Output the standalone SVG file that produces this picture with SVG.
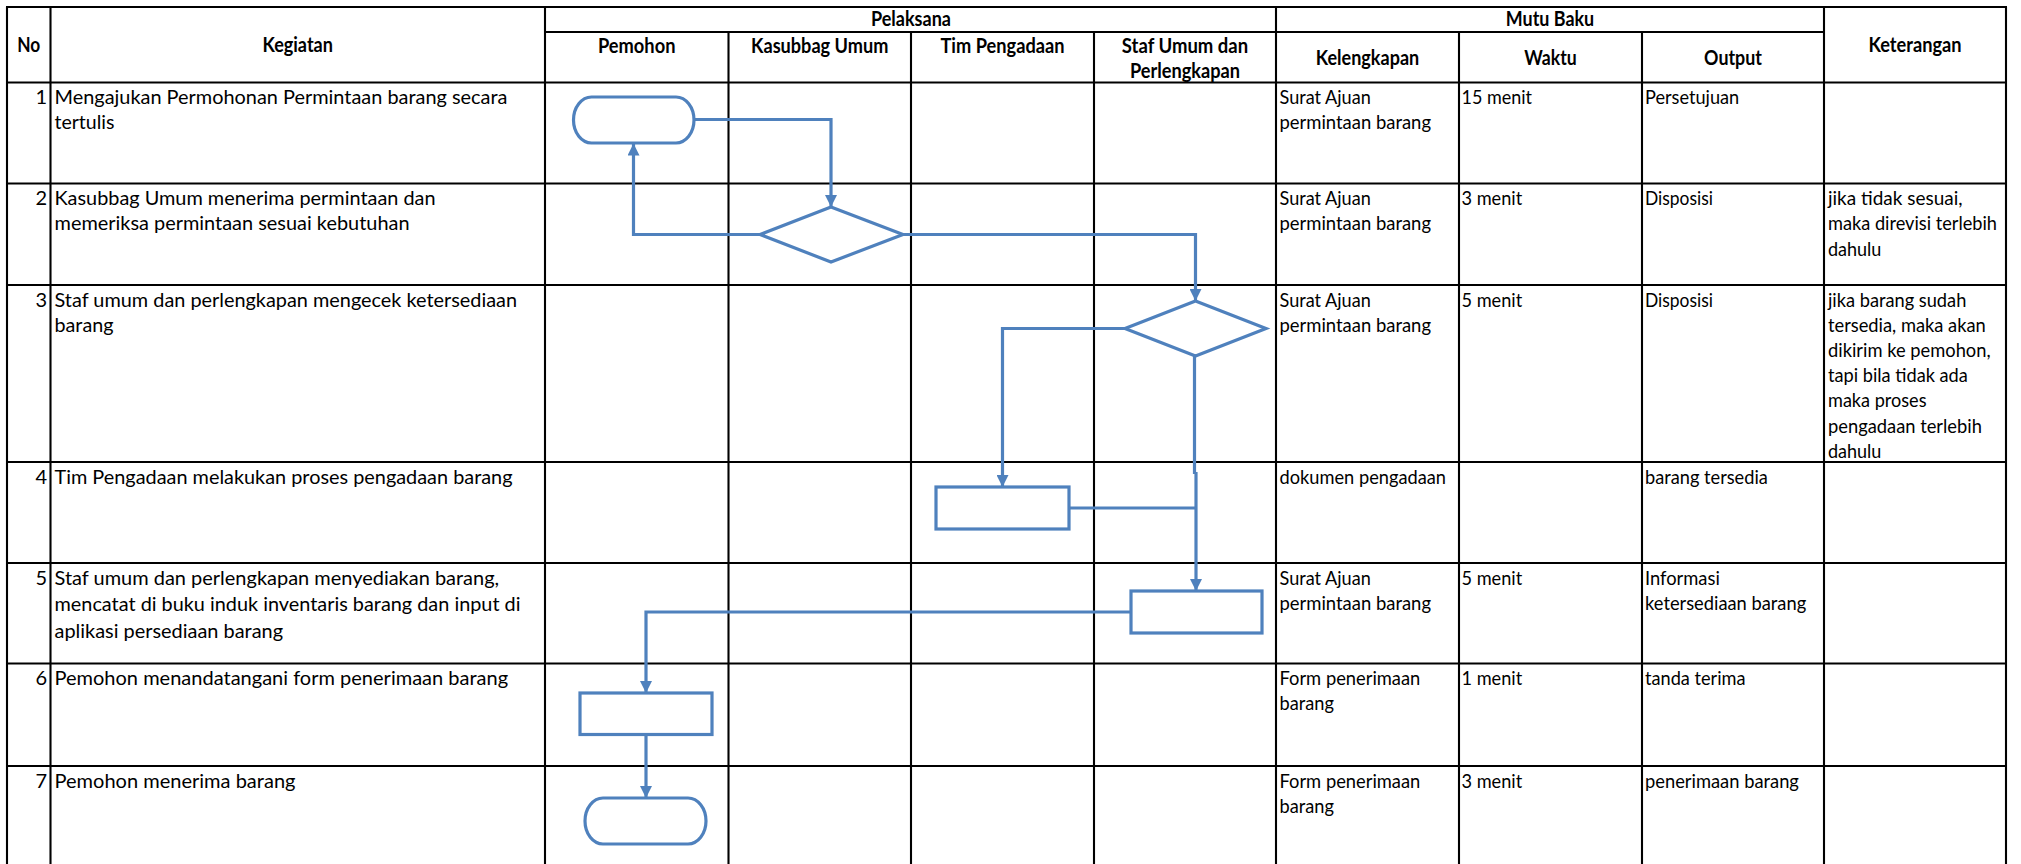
<svg xmlns="http://www.w3.org/2000/svg" width="2021" height="864" viewBox="0 0 2021 864">
<style>
.t{font-family:Lato,"Liberation Sans",sans-serif;font-size:20px;fill:#000}
.h{font-weight:bold;text-anchor:middle}
.n{text-anchor:end}
.grid line{stroke:#000;stroke-width:2.1}
.shape{fill:#fff;stroke:#4F81BD;stroke-width:3.2}
.conn path{fill:none;stroke:#4F81BD;stroke-width:3.2}
</style>
<defs>
<marker id="arr" markerUnits="userSpaceOnUse" markerWidth="12" markerHeight="12" refX="12" refY="6" orient="auto">
<path d="M0,0 L12,6 L0,12 z" fill="#4F81BD"/>
</marker>
</defs>
<rect width="2021" height="864" fill="#fff"/>
<g class="grid">
<line x1="6" y1="7" x2="2007" y2="7"/>
<line x1="7" y1="7" x2="7" y2="870"/>
<line x1="2006" y1="7" x2="2006" y2="870"/>
<line x1="545" y1="32" x2="1824" y2="32"/>
<line x1="7" y1="82.5" x2="2006" y2="82.5"/>
<line x1="7" y1="183.5" x2="2006" y2="183.5"/>
<line x1="7" y1="285" x2="2006" y2="285"/>
<line x1="7" y1="462" x2="2006" y2="462"/>
<line x1="7" y1="563" x2="2006" y2="563"/>
<line x1="7" y1="663.5" x2="2006" y2="663.5"/>
<line x1="7" y1="766" x2="2006" y2="766"/>
<line x1="50.5" y1="7" x2="50.5" y2="870"/>
<line x1="545" y1="7" x2="545" y2="870"/>
<line x1="728.5" y1="32" x2="728.5" y2="870"/>
<line x1="911" y1="32" x2="911" y2="870"/>
<line x1="1094" y1="32" x2="1094" y2="870"/>
<line x1="1276" y1="7" x2="1276" y2="870"/>
<line x1="1459" y1="32" x2="1459" y2="870"/>
<line x1="1642" y1="32" x2="1642" y2="870"/>
<line x1="1824" y1="7" x2="1824" y2="870"/>
</g>
<g id="header">
<text class="t h" x="28.7" y="52" textLength="23" lengthAdjust="spacingAndGlyphs">No</text>
<text class="t h" x="297.7" y="52" textLength="70.5" lengthAdjust="spacingAndGlyphs">Kegiatan</text>
<text class="t h" x="911" y="26" textLength="80" lengthAdjust="spacingAndGlyphs">Pelaksana</text>
<text class="t h" x="1550" y="26" textLength="88.3" lengthAdjust="spacingAndGlyphs">Mutu Baku</text>
<text class="t h" x="636.7" y="52.5" textLength="77.5" lengthAdjust="spacingAndGlyphs">Pemohon</text>
<text class="t h" x="819.7" y="52.5" textLength="137.3" lengthAdjust="spacingAndGlyphs">Kasubbag Umum</text>
<text class="t h" x="1002.5" y="52.5" textLength="124" lengthAdjust="spacingAndGlyphs">Tim Pengadaan</text>
<text class="t h" x="1185" y="52.5" textLength="126.3" lengthAdjust="spacingAndGlyphs">Staf Umum dan</text>
<text class="t h" x="1185" y="77.5" textLength="110.2" lengthAdjust="spacingAndGlyphs">Perlengkapan</text>
<text class="t h" x="1367.5" y="65" textLength="103.4" lengthAdjust="spacingAndGlyphs">Kelengkapan</text>
<text class="t h" x="1550.5" y="65" textLength="52.4" lengthAdjust="spacingAndGlyphs">Waktu</text>
<text class="t h" x="1733" y="65" textLength="57.8" lengthAdjust="spacingAndGlyphs">Output</text>
<text class="t h" x="1915" y="52" textLength="93.2" lengthAdjust="spacingAndGlyphs">Keterangan</text>
</g>
<g id="rows">
<text class="t n" x="47" y="104">1</text>
<text class="t" x="54.5" y="104" textLength="453" lengthAdjust="spacingAndGlyphs">Mengajukan Permohonan Permintaan barang secara</text>
<text class="t" x="54.5" y="129.4" textLength="60" lengthAdjust="spacingAndGlyphs">tertulis</text>
<text class="t" x="1279.5" y="104" textLength="91.3" lengthAdjust="spacingAndGlyphs">Surat Ajuan</text>
<text class="t" x="1279.5" y="129.4" textLength="151.5" lengthAdjust="spacingAndGlyphs">permintaan barang</text>
<text class="t" x="1461.5" y="104" textLength="70.4" lengthAdjust="spacingAndGlyphs">15 menit</text>
<text class="t" x="1645" y="104" textLength="94.2" lengthAdjust="spacingAndGlyphs">Persetujuan</text>

<text class="t n" x="47" y="205">2</text>
<text class="t" x="54.5" y="205" textLength="381" lengthAdjust="spacingAndGlyphs">Kasubbag Umum menerima permintaan dan</text>
<text class="t" x="54.5" y="230.4" textLength="355" lengthAdjust="spacingAndGlyphs">memeriksa permintaan sesuai kebutuhan</text>
<text class="t" x="1279.5" y="205" textLength="91.3" lengthAdjust="spacingAndGlyphs">Surat Ajuan</text>
<text class="t" x="1279.5" y="230.4" textLength="151.5" lengthAdjust="spacingAndGlyphs">permintaan barang</text>
<text class="t" x="1461.5" y="205" textLength="60.7" lengthAdjust="spacingAndGlyphs">3 menit</text>
<text class="t" x="1645" y="205" textLength="68" lengthAdjust="spacingAndGlyphs">Disposisi</text>
<text class="t" x="1828" y="205" textLength="134.5" lengthAdjust="spacingAndGlyphs">jika tidak sesuai,</text>
<text class="t" x="1828" y="230.4" textLength="169" lengthAdjust="spacingAndGlyphs">maka direvisi terlebih</text>
<text class="t" x="1828" y="255.8" textLength="53.4" lengthAdjust="spacingAndGlyphs">dahulu</text>

<text class="t n" x="47" y="306.5">3</text>
<text class="t" x="54.5" y="306.5" textLength="462.5" lengthAdjust="spacingAndGlyphs">Staf umum dan perlengkapan mengecek ketersediaan</text>
<text class="t" x="54.5" y="331.9" textLength="59" lengthAdjust="spacingAndGlyphs">barang</text>
<text class="t" x="1279.5" y="306.5" textLength="91.3" lengthAdjust="spacingAndGlyphs">Surat Ajuan</text>
<text class="t" x="1279.5" y="331.9" textLength="151.5" lengthAdjust="spacingAndGlyphs">permintaan barang</text>
<text class="t" x="1461.5" y="306.5" textLength="60.7" lengthAdjust="spacingAndGlyphs">5 menit</text>
<text class="t" x="1645" y="306.5" textLength="68" lengthAdjust="spacingAndGlyphs">Disposisi</text>
<text class="t" x="1828" y="306.5" textLength="138.3" lengthAdjust="spacingAndGlyphs">jika barang sudah</text>
<text class="t" x="1828" y="331.7" textLength="157.8" lengthAdjust="spacingAndGlyphs">tersedia, maka akan</text>
<text class="t" x="1828" y="356.9" textLength="162.6" lengthAdjust="spacingAndGlyphs">dikirim ke pemohon,</text>
<text class="t" x="1828" y="382.1" textLength="139.8" lengthAdjust="spacingAndGlyphs">tapi bila tidak ada</text>
<text class="t" x="1828" y="407.3" textLength="98.5" lengthAdjust="spacingAndGlyphs">maka proses</text>
<text class="t" x="1828" y="432.5" textLength="153.9" lengthAdjust="spacingAndGlyphs">pengadaan terlebih</text>
<text class="t" x="1828" y="457.7" textLength="53.4" lengthAdjust="spacingAndGlyphs">dahulu</text>

<text class="t n" x="47" y="483.5">4</text>
<text class="t" x="54.5" y="483.5" textLength="458" lengthAdjust="spacingAndGlyphs">Tim Pengadaan melakukan proses pengadaan barang</text>
<text class="t" x="1279.5" y="483.5" textLength="166.5" lengthAdjust="spacingAndGlyphs">dokumen pengadaan</text>
<text class="t" x="1645" y="483.5" textLength="122.8" lengthAdjust="spacingAndGlyphs">barang tersedia</text>

<text class="t n" x="47" y="584.5">5</text>
<text class="t" x="54.5" y="584.5" textLength="444.6" lengthAdjust="spacingAndGlyphs">Staf umum dan perlengkapan menyediakan barang,</text>
<text class="t" x="54.5" y="611" textLength="466" lengthAdjust="spacingAndGlyphs">mencatat di buku induk inventaris barang dan input di</text>
<text class="t" x="54.5" y="637.5" textLength="228.6" lengthAdjust="spacingAndGlyphs">aplikasi persediaan barang</text>
<text class="t" x="1279.5" y="584.5" textLength="91.3" lengthAdjust="spacingAndGlyphs">Surat Ajuan</text>
<text class="t" x="1279.5" y="609.9" textLength="151.5" lengthAdjust="spacingAndGlyphs">permintaan barang</text>
<text class="t" x="1461.5" y="584.5" textLength="60.7" lengthAdjust="spacingAndGlyphs">5 menit</text>
<text class="t" x="1645" y="584.5" textLength="74.8" lengthAdjust="spacingAndGlyphs">Informasi</text>
<text class="t" x="1645" y="609.9" textLength="161.2" lengthAdjust="spacingAndGlyphs">ketersediaan barang</text>

<text class="t n" x="47" y="685">6</text>
<text class="t" x="54.5" y="685" textLength="453.6" lengthAdjust="spacingAndGlyphs">Pemohon menandatangani form penerimaan barang</text>
<text class="t" x="1279.5" y="685" textLength="140.8" lengthAdjust="spacingAndGlyphs">Form penerimaan</text>
<text class="t" x="1279.5" y="710.4" textLength="54.4" lengthAdjust="spacingAndGlyphs">barang</text>
<text class="t" x="1461.5" y="685" textLength="60.7" lengthAdjust="spacingAndGlyphs">1 menit</text>
<text class="t" x="1645" y="685" textLength="100.5" lengthAdjust="spacingAndGlyphs">tanda terima</text>

<text class="t n" x="47" y="787.5">7</text>
<text class="t" x="54.5" y="787.5" textLength="241" lengthAdjust="spacingAndGlyphs">Pemohon menerima barang</text>
<text class="t" x="1279.5" y="787.5" textLength="140.8" lengthAdjust="spacingAndGlyphs">Form penerimaan</text>
<text class="t" x="1279.5" y="812.9" textLength="54.4" lengthAdjust="spacingAndGlyphs">barang</text>
<text class="t" x="1461.5" y="787.5" textLength="60.7" lengthAdjust="spacingAndGlyphs">3 menit</text>
<text class="t" x="1645" y="787.5" textLength="153.9" lengthAdjust="spacingAndGlyphs">penerimaan barang</text>
</g>
<g id="connectors" class="conn">
<path d="M694,119.5 H831 V207" marker-end="url(#arr)"/>
<path d="M760,234.5 H633.5 V143.5" marker-end="url(#arr)"/>
<path d="M903,234.5 H1195.5 V301" marker-end="url(#arr)"/>
<path d="M1125,328.5 H1002.5 V487" marker-end="url(#arr)"/>
<path d="M1194.5,356 V474"/>
<path d="M1196,472 V591" marker-end="url(#arr)"/>
<path d="M1069,508 H1196"/>
<path d="M1131,612 H646 V693" marker-end="url(#arr)"/>
<path d="M646,734.5 V798" marker-end="url(#arr)"/>
</g>
<g id="n1"><rect class="shape" x="573.5" y="97" width="120.5" height="46" rx="18" ry="23"/></g>
<g id="n2"><polygon class="shape" points="831,207 903,234.5 831,262 760,234.5"/></g>
<g id="n3"><polygon class="shape" points="1195.5,301 1266,328.5 1195.5,356 1125,328.5"/></g>
<g id="n4"><rect class="shape" x="936" y="487" width="133" height="42"/></g>
<g id="n5"><rect class="shape" x="1131" y="591" width="131" height="42"/></g>
<g id="n6"><rect class="shape" x="580" y="693" width="132" height="41.5"/></g>
<g id="n7"><rect class="shape" x="585" y="798" width="121" height="46" rx="18" ry="23"/></g>
</svg>
